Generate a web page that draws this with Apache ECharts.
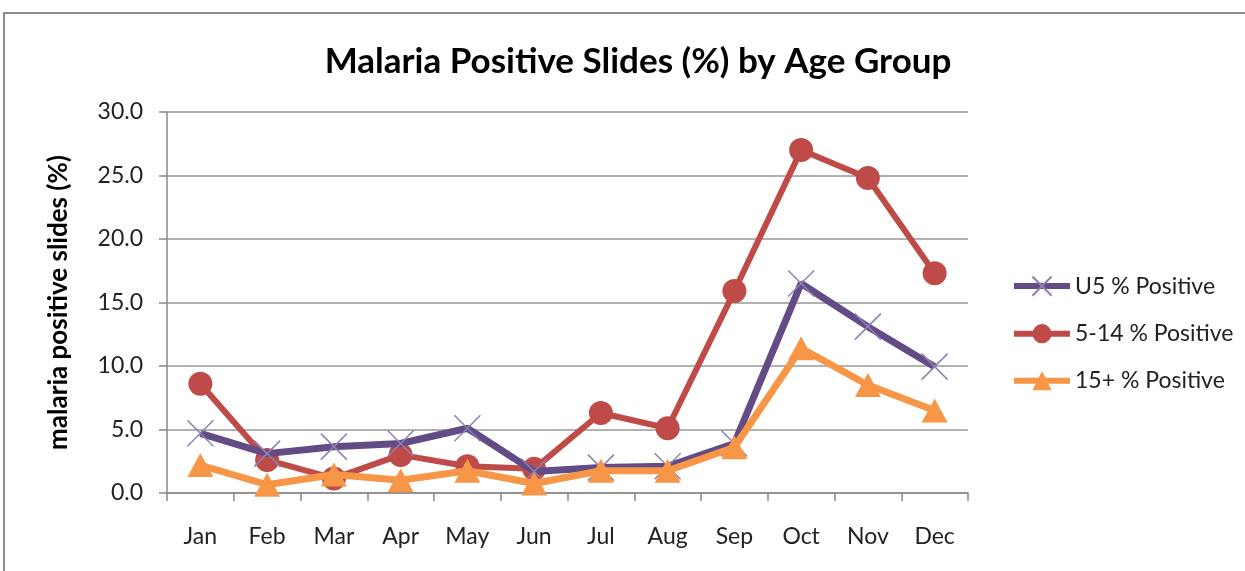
<!DOCTYPE html>
<html><head><meta charset="utf-8">
<script src="https://cdn.jsdelivr.net/npm/echarts@6/dist/echarts.min.js"></script>
<style>html,body{margin:0;padding:0;background:#fff}#c{width:1245px;height:571px}</style>
</head><body><div id="c"></div>
<script>
const months = ['Jan','Feb','Mar','Apr','May','Jun','Jul','Aug','Sep','Oct','Nov','Dec'];
const u5 = [4.7, 3.1, 3.65, 3.9, 5.1, 1.7, 2.0, 2.1, 3.9, 16.5, 13.1, 9.95];
const age5to14 = [8.6, 2.6, 1.15, 3.0, 2.1, 1.9, 6.3, 5.1, 15.9, 27.0, 24.8, 17.3];
const age15plus = [2.2, 0.65, 1.45, 1.0, 1.75, 0.75, 1.75, 1.75, 3.6, 11.4, 8.5, 6.5];
const yTicks = [0, 5, 10, 15, 20, 25, 30];

const font = 'Lato, "Open Sans", sans-serif';
const chart = echarts.init(document.getElementById('c'));
chart.setOption({
  animation: false,
  backgroundColor: '#fff',
  graphic: [{type:'rect', shape:{x:4,y:13,width:1260,height:600}, style:{fill:'none', stroke:'#8c8c8c', lineWidth:2}, z:-1}],
  title: {text:'Malaria Positive Slides (%) by Age Group', left:633, textAlign:'center', top:39,
    textStyle:{fontFamily:font, fontSize:35, fontWeight:'bold', color:'#000'}},
  legend: {orient:'vertical', left:1006, top:269, itemGap:24, itemWidth:56, itemHeight:24,
    textStyle:{fontFamily:font, fontSize:23, color:'#222'},
    data:[
      {name:'U5 % Positive', lineStyle:{width:6}},
      {name:'5-14 % Positive', lineStyle:{width:6}},
      {name:'15+ % Positive', lineStyle:{width:6}}
    ]},
  grid: {left:167, right:277, top:112, bottom:78},
  xAxis: {type:'category', data:months, boundaryGap:true,
    axisLine:{lineStyle:{color:'#888', width:1.5}},
    axisTick:{show:true, length:8, lineStyle:{color:'#888', width:1.5}},
    axisLabel:{fontFamily:font, fontSize:23, color:'#222', margin:32}},
  yAxis: {type:'value', min:0, max:30, interval:5,
    name:'malaria positive slides (%)', nameLocation:'middle', nameGap:95,
    nameTextStyle:{fontFamily:font, fontSize:26, fontWeight:'bold', color:'#000'},
    axisLine:{show:true, lineStyle:{color:'#888', width:1.5}},
    axisTick:{show:true, length:8, lineStyle:{color:'#888', width:1.5}},
    splitLine:{lineStyle:{color:'#999', width:1.5}},
    axisLabel:{fontFamily:font, fontSize:23, color:'#222', margin:24,
      formatter: v => yTicks.includes(v) ? v.toFixed(1) : ''}},
  series: [
    {name:'U5 % Positive', type:'line', data:u5, z:3,
     lineStyle:{color:'#634C85', width:7},
     symbol:'path://M0,0L10,10M10,0L0,10', symbolSize:26,
     itemStyle:{color:'none', borderColor:'#8E80B5', borderWidth:1.5}},
    {name:'5-14 % Positive', type:'line', data:age5to14, z:2,
     lineStyle:{color:'#BE4B48', width:6},
     symbol:'circle', symbolSize:24,
     itemStyle:{color:'#BE4B48'}},
    {name:'15+ % Positive', type:'line', data:age15plus, z:4,
     lineStyle:{color:'#F79646', width:7},
     symbol:'triangle', symbolSize:[26,24],
     itemStyle:{color:'#F79646'}}
  ]
});
</script></body></html>
